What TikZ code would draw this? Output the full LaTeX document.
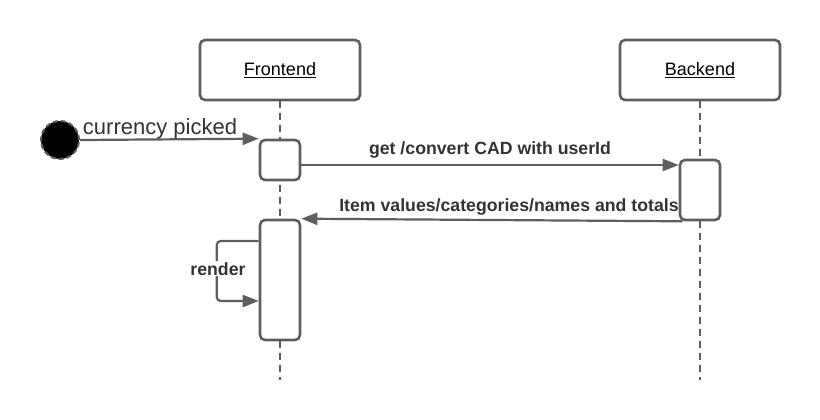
\documentclass[tikz,border=0pt]{standalone}
\usepackage{fontspec}
\setmainfont{Liberation Sans}
\usetikzlibrary{arrows.meta}
\definecolor{ln}{HTML}{5E5E5E}
\definecolor{tx}{HTML}{333333}
\tikzset{
  party/.style={draw=ln, line width=2.6pt, rounded corners=5pt, fill=white,
    minimum width=160pt, minimum height=60pt, inner sep=0pt,
    font=\fontsize{18}{20}\selectfont, text=black},
  actbox/.style={draw=ln, line width=2.6pt, rounded corners=5pt, fill=white,
    minimum width=40pt, inner sep=0pt},
  lifeline/.style={draw=ln, line width=2pt, dash pattern=on 7pt off 5pt},
  msg/.style={draw=ln, line width=2.2pt, -{Triangle[length=16pt,width=12pt]}},
  msglabel/.style={text=tx, font=\bfseries\fontsize{17.7}{20}\selectfont, inner sep=0pt, anchor=base},
}
\begin{document}
\begin{tikzpicture}[x=1pt,y=-1pt]
\useasboundingbox (0,0) rectangle (820,420);
% participants
\node[party] (fe) at (280,70) {\underline{Frontend}};
\node[party] (be) at (700,70) {\underline{Backend}};
\coordinate (feend) at (280,380);
\coordinate (beend) at (700,380);
\draw[lifeline] (fe.south) -- (feend);
\draw[lifeline] (be.south) -- (beend);
% activations
\node[actbox, minimum height=40pt] (act1) at (280,160) {};
\node[actbox, minimum height=60pt] (act2) at (700,190) {};
\node[actbox, minimum height=120pt] (act3) at (280,280) {};
% start
\node[circle, fill=black, draw=ln, line width=2pt, dash pattern=on 5pt off 3pt,
      minimum size=38pt, inner sep=0pt] (start) at (60,140) {};
\draw[msg] (start.east) -- (act1.north west);
\node[text=tx, font=\fontsize{22}{24}\selectfont, inner sep=0pt, anchor=base] (lcur) at (160,134) {currency picked};
% get
\draw[msg] ([yshift=-5pt]act1.east) -- ([yshift=-5pt]act1.east -| act2.west);
\node[msglabel] (lget) at (490,154) {get /convert CAD with userId};
% return
\draw[msg] ([xshift=4pt]act2.south west) -- (act3.north east);
\node[msglabel] (lret) at (509,211.5) {Item values/categories/names and totals};
% render loop
\draw[msg, rounded corners=4pt] ([yshift=39pt]act3.west) -- ++(-42,0) |- ([yshift=-21pt]act3.west);
\node[msglabel, fill=white, inner sep=1pt] (lren) at (218,275) {render};
\end{tikzpicture}
\end{document}
